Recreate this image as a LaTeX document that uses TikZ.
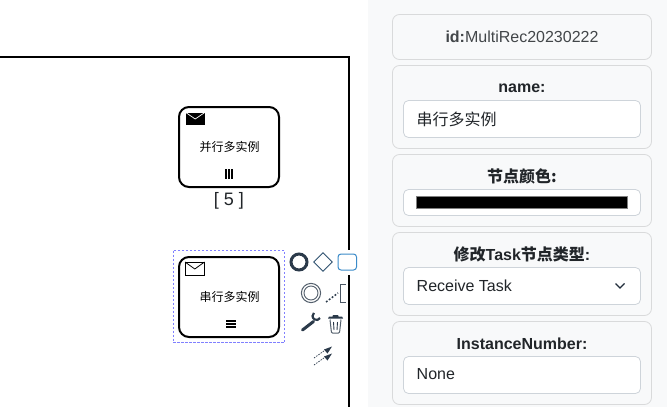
\documentclass[tikz,border=0pt]{standalone}
\usepackage{fontspec}
\setmainfont{Liberation Sans}
\newfontfamily\cjk{Noto Sans CJK SC}
\usetikzlibrary{shapes.geometric}
\definecolor{panelbg}{HTML}{F8F9FA}
\definecolor{cardline}{HTML}{D9DADB}
\definecolor{inputline}{HTML}{CED4DA}
\definecolor{inktext}{HTML}{212529}
\definecolor{padink}{HTML}{2B3A4A}
\definecolor{padblue}{HTML}{3B8BC9}
\definecolor{selblue}{HTML}{8080FF}
\tikzset{
  x=1pt,y=-1pt,
  taskbox/.style={draw=black,line width=2pt,rounded corners=10pt,fill=white},
  cardbox/.style={draw=cardline,line width=0.8pt,rounded corners=7pt,fill=panelbg},
  inputbox/.style={draw=inputline,line width=0.8pt,rounded corners=5pt,fill=white},
  cardlabel/.style={inner sep=0pt,text=inktext,font=\fontsize{16}{16}\selectfont\bfseries},
  inputtext/.style={inner sep=0pt,anchor=west,text=inktext,font=\fontsize{16}{16}\selectfont},
  tasktext/.style={inner sep=0pt,text=black,font=\cjk\fontsize{12}{12}\selectfont},
  padline/.style={draw=padink,line width=0.9pt}
}
\begin{document}
\begin{tikzpicture}
\useasboundingbox (0,0) rectangle (667,407);
\fill[white] (0,0) rectangle (667,407);
% canvas frame
\draw[black,line width=2pt] (-2,57) -- (349,57) -- (349,409);
% parallel task
\draw[taskbox] (179,107) rectangle (279,187);
\filldraw[draw=white,fill=black,line width=0.5pt] (185,112) rectangle (205.5,125.5);
\draw[white,line width=0.7pt] (185,112) -- (195.2,119) -- (205.5,112);
\node[tasktext] (t1) at (229.5,146.5) {并行多实例};
\foreach \xx in {226,229,232} \fill[black] (\xx-1,169) rectangle (\xx+1,179);
\node[inner sep=0pt,text=inktext,font=\fontsize{18}{18}\selectfont] (n1) at (229,200.5) {[ 5 ]};
% sequential task
\draw[selblue,line width=0.8pt,dash pattern=on 2.5pt off 1.5pt] (173,250.5) rectangle (284.5,342.5);
\draw[taskbox] (179,257) rectangle (279,337);
\draw[draw=black,fill=white,line width=0.8pt] (185,262) rectangle (204.5,275.5);
\draw[black,line width=0.8pt] (185,262) -- (194.8,269) -- (204.5,262);
\node[tasktext] (t2) at (229.5,296.5) {串行多实例};
\foreach \yy in {321,324,327} \fill[black] (226,\yy-0.8) rectangle (236,\yy+0.8);
% context pad
\draw[padink,line width=3pt] (299,262) circle (8);
\node[diamond,padline,draw=padink!70!padblue,minimum width=19pt,minimum height=19pt,inner sep=0pt] (gw) at (323,262) {};
\fill[white] (335,250) rectangle (360,275);
\draw[padblue,line width=1pt,rounded corners=3pt,fill=white] (338,254) rectangle (356.5,270);
\draw[padink!80,line width=1pt] (311,293) circle (9.6);
\draw[padink!80,line width=0.9pt] (311,293) circle (7);
\draw[padink!85,line width=0.9pt] (345.5,284) -- (340,284) -- (340,302) -- (345.5,302);
\draw[padink,line width=1.5pt,dash pattern=on 1.8pt off 1.8pt] (326,302) -- (338,293);
% wrench
\draw[padink,line width=3pt,line cap=round] (302.5,330) -- (313.5,321.5);
\draw[padink,line width=2.2pt] (320,318) arc (30:230:4);
% trash
\fill[padink] (328,318.5) -- (329,316.5) -- (332.5,316.5) -- (333,315) -- (338,315) -- (338.5,316.5) -- (342,316.5) -- (343,318.5) -- cycle;
\draw[padink!80,line width=1pt,rounded corners=1pt] (330,319.5) -- (331.5,333) -- (339.5,333) -- (341,319.5);
\draw[padink,line width=0.9pt] (333.5,322) -- (334,330) (337.5,322) -- (337,330);
% connect arrows
\draw[padink,line width=0.7pt,dash pattern=on 1.5pt off 1.2pt] (314,365) -- (326,356.5);
\draw[padink,line width=0.7pt,dash pattern=on 1.5pt off 1.2pt] (314,358) -- (326,349.5);
\fill[padink] (332,346.5) -- (324,349.5) -- (327.5,353.5) -- cycle;
\fill[padink] (332,353.5) -- (324,356.5) -- (327.5,360.5) -- cycle;
% panel
\fill[panelbg] (368,0) rectangle (667,407);
\draw[cardbox] (392.5,14.5) rectangle (651.5,59.5);
\draw[cardbox] (392.5,65.5) rectangle (651.5,148.5);
\draw[cardbox] (392.5,154.5) rectangle (651.5,226.5);
\draw[cardbox] (392.5,232.5) rectangle (651.5,315.5);
\draw[cardbox] (392.5,321.5) rectangle (651.5,404.5);
\node[inner sep=0pt,text=inktext!85,font=\fontsize{16}{16}\selectfont] (idl) at (522,36.5) {\textbf{id:}MultiRec20230222};
\node[cardlabel] (nl) at (522,88) {name:};
\draw[inputbox] (403.5,100.5) rectangle (640.5,137.5);
\node[inputtext,font=\cjk\fontsize{16}{16}\selectfont] (ni) at (416.5,119) {串行多实例};
\node[cardlabel,font=\cjk\fontsize{16}{16}\selectfont\bfseries] (cl) at (522,176.5) {节点颜色:};
\draw[inputbox] (403.5,189.5) rectangle (640.5,215.5);
\filldraw[draw=gray,fill=black,line width=0.7pt] (416,196) rectangle (627.5,208.5);
\node[cardlabel] (tl) at (522,254.5) {{\cjk 修改}Task{\cjk 节点类型}:};
\draw[inputbox] (403.5,267.5) rectangle (640.5,304.5);
\node[inputtext] (ts) at (416.5,285.5) {Receive Task};
\draw[padink!80!black,line width=1.3pt] (615.5,283.5) -- (620,288) -- (624.5,283.5);
\node[cardlabel] (il) at (522,343.5) {InstanceNumber:};
\draw[inputbox] (403.5,356.5) rectangle (640.5,393.5);
\node[inputtext] (ii) at (416.5,374.5) {None};
\end{tikzpicture}
\end{document}
